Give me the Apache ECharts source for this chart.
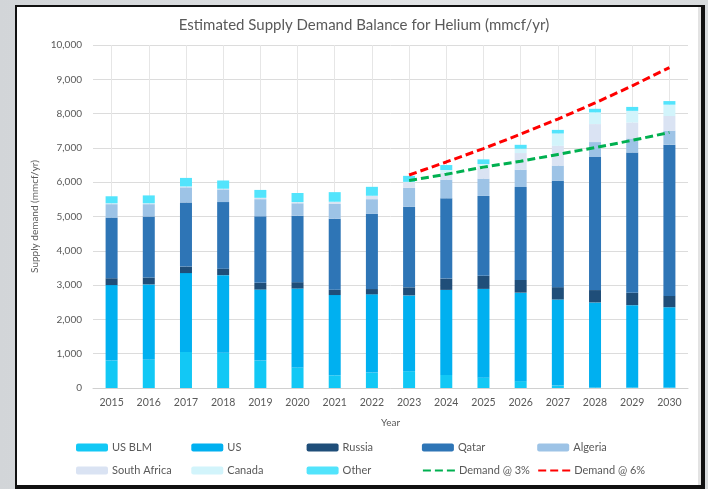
<!DOCTYPE html>
<html>
<head>
<meta charset="utf-8">
<script src="https://cdn.jsdelivr.net/npm/echarts@6/dist/echarts.min.js"></script>
<style>
  html, body { margin: 0; padding: 0; }
  body {
    width: 708px; height: 489px; overflow: hidden; position: relative;
    background: linear-gradient(90deg, #d2d5d8 0%, #e2e4e6 60%, #d8dbdd 100%);
  }
  #card {
    position: absolute; left: 15px; top: 5px; width: 684px; height: 478px;
    background: #fff;
    border-left: 2px solid #111; border-top: 2px solid #111;
    border-right: 4px solid #111; border-bottom: 4px solid #111;
    box-shadow: inset -3px 0 0 #e3e3e3;
  }
  #chart { position: absolute; left: 0; top: 0; width: 708px; height: 489px; }
</style>
</head>
<body>
<div id="card"></div>
<div id="chart"></div>
<script>
// categories
const years = ['2015', '2016', '2017', '2018', '2019', '2020', '2021', '2022',
  '2023', '2024', '2025', '2026', '2027', '2028', '2029', '2030'];

// supply by source (mmcf/yr)
const usBlm = [800, 820, 1050, 1030, 800, 600, 370, 450, 490, 380, 300, 200, 70, 15, 15, 15];
const us = [2200, 2200, 2300, 2260, 2070, 2300, 2340, 2280, 2210, 2480, 2590, 2580, 2510, 2480, 2400, 2340];
const russia = [200, 200, 190, 190, 195, 185, 155, 155, 235, 330, 380, 370, 360, 360, 360, 330];
const qatar = [1770, 1780, 1870, 1940, 1940, 1940, 2070, 2190, 2350, 2340, 2330, 2710, 3100, 3880, 4090, 4410];
const algeria = [390, 360, 440, 370, 500, 360, 430, 430, 550, 545, 505, 505, 445, 435, 410, 410];
const southAfrica = [20, 20, 20, 15, 35, 30, 60, 95, 165, 200, 330, 485, 575, 525, 465, 425];
const canada = [5, 5, 5, 5, 5, 5, 5, 5, 10, 80, 95, 125, 360, 340, 340, 330];
const other = [205, 230, 250, 240, 230, 265, 280, 260, 175, 145, 135, 115, 105, 105, 115, 105];

// demand scenarios
const demand3 = [null, null, null, null, null, null, null, null, 6050, 6230, 6440, 6610, 6810, 7010, 7220, 7450];
const demand6 = [null, null, null, null, null, null, null, null, 6210, 6590, 6980, 7400, 7840, 8310, 8810, 9340];

const yTicks = [0, 1000, 2000, 3000, 4000, 5000, 6000, 7000, 8000, 9000, 10000];

const barSeries = [
  { name: 'US BLM', data: usBlm, color: '#12c8f5' },
  { name: 'US', data: us, color: '#00b0f0' },
  { name: 'Russia', data: russia, color: '#1f4e79' },
  { name: 'Qatar', data: qatar, color: '#2e75b6' },
  { name: 'Algeria', data: algeria, color: '#9dc3e6' },
  { name: 'South Africa', data: southAfrica, color: '#dae3f3' },
  { name: 'Canada', data: canada, color: '#d2f4fb' },
  { name: 'Other', data: other, color: '#52e4fc' }
];
const lineSeries = [
  { name: 'Demand @ 3%', data: demand3, color: '#00b050' },
  { name: 'Demand @ 6%', data: demand6, color: '#ff0000' }
];

const font = 'Lato, "Open Sans", sans-serif';
const grey = '#595959';

const lineNames = lineSeries.map(s => s.name);
const legendNames = barSeries.map(s => s.name).concat(lineNames);
// one legend per slot so the columns line up like the original
const legends = legendNames.map((name, i) => {
  const lg = {
    data: [name],
    left: 76 + (i % 5) * 115.3,
    top: 442 + Math.floor(i / 5) * 23,
    itemWidth: 32,
    itemHeight: 8,
    itemGap: 0,
    padding: 0,
    selectedMode: false,
    textStyle: { color: grey, fontSize: 11, fontFamily: font, padding: [0, 0, 0, -1] }
  };
  // dashed line only, no marker in the middle
  if (lineNames.includes(name)) lg.itemStyle = { opacity: 0 };
  return lg;
});

const chart = echarts.init(document.getElementById('chart'), null, { renderer: 'canvas' });

chart.setOption({
  backgroundColor: 'transparent',
  animation: false,
  title: {
    text: 'Estimated Supply Demand Balance for Helium (mmcf/yr)',
    left: 359,
    textAlign: 'center',
    top: 13,
    textStyle: { color: grey, fontSize: 15, fontWeight: 'normal', fontFamily: font }
  },
  legend: legends,
  grid: { left: 93, right: 20, top: 45, bottom: 101, containLabel: false },
  xAxis: {
    type: 'category',
    data: years,
    name: 'Year',
    nameLocation: 'middle',
    nameGap: 30,
    nameTextStyle: { color: grey, fontSize: 10, fontFamily: font },
    axisLine: { lineStyle: { color: '#d0d0d0', width: 1 } },
    axisTick: { show: false },
    axisLabel: { color: grey, fontSize: 10.5, fontFamily: font, margin: 9 },
    splitLine: { show: true, alignWithLabel: true, lineStyle: { color: '#e6e6e6', width: 1 } }
  },
  yAxis: {
    type: 'value',
    min: yTicks[0],
    max: yTicks[yTicks.length - 1],
    interval: 1000,
    name: 'Supply demand (mmcf/yr)',
    nameLocation: 'middle',
    nameGap: 52,
    nameTextStyle: { color: grey, fontSize: 10, fontFamily: font },
    axisLine: { show: false },
    axisTick: { show: false },
    axisLabel: {
      color: grey, fontSize: 10, fontFamily: font, margin: 11,
      formatter: v => v.toLocaleString('en-US')
    },
    splitLine: { lineStyle: { color: '#dcdcdc', width: 1 } }
  },
  series: barSeries.map(s => ({
    name: s.name,
    type: 'bar',
    stack: 'supply',
    barWidth: 12,
    data: s.data,
    itemStyle: { color: s.color },
    emphasis: { disabled: true }
  })).concat(lineSeries.map(s => ({
    name: s.name,
    type: 'line',
    data: s.data,
    symbol: 'none',
    smooth: false,
    z: 5,
    color: s.color,
    lineStyle: { color: s.color, width: 3, type: [8, 4] },
    emphasis: { disabled: true }
  })))
});
</script>
</body>
</html>
